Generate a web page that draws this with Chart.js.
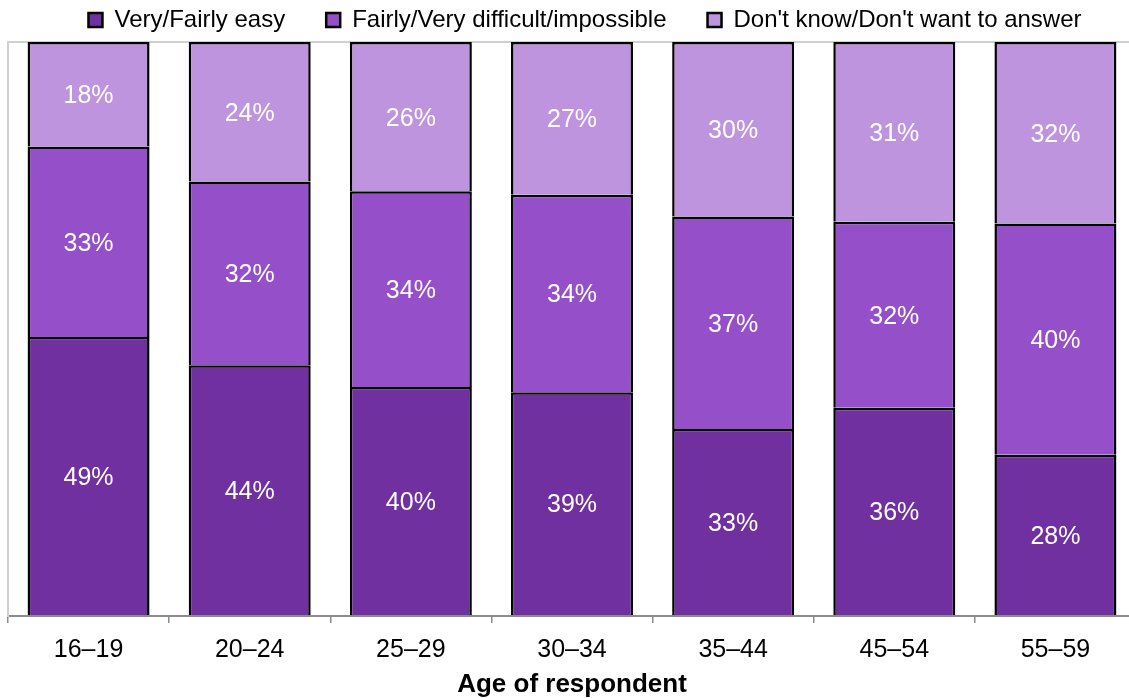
<!DOCTYPE html>
<html>
<head>
<meta charset="utf-8">
<script src="https://cdn.jsdelivr.net/npm/chart.js@4.4.1/dist/chart.umd.min.js"></script>
<style>
  html, body { margin: 0; padding: 0; background: #fff; overflow: hidden; }
  #wrap { width: 1140px; height: 698px; }
</style>
</head>
<body>
<div id="wrap"><canvas id="myChart" width="1140" height="698"></canvas></div>
<script>
const ageGroups = ['16–19', '20–24', '25–29', '30–34', '35–44', '45–54', '55–59'];
const seriesNames = ['Very/Fairly easy', 'Fairly/Very difficult/impossible', "Don't know/Don't want to answer"];

// shares in % (labels show the rounded value)
const easyValues = [48.6, 43.7, 39.9, 39.0, 32.6, 36.3, 28.1];
const difficultValues = [33.2, 32.0, 34.1, 34.4, 37.0, 32.4, 40.3];
const dontKnowValues = [18.2, 24.3, 26.0, 26.6, 30.4, 31.3, 31.6];

const seriesColors = ['#7030a0', '#954fc9', '#bf94de'];

Chart.defaults.font.family = "'Liberation Sans', Arial, sans-serif";
Chart.defaults.color = '#000';

// white percentage labels in the middle of each segment
const segmentLabels = {
  id: 'segmentLabels',
  afterDatasetsDraw(chart) {
    const { ctx } = chart;
    ctx.save();
    ctx.fillStyle = '#fff';
    ctx.font = "25px 'Liberation Sans', Arial, sans-serif";
    ctx.textAlign = 'center';
    ctx.textBaseline = 'middle';
    chart.data.datasets.forEach((ds, i) => {
      chart.getDatasetMeta(i).data.forEach((bar, j) => {
        const midY = (bar.y + bar.base) / 2;
        ctx.fillText(Math.round(ds.data[j]) + '%', bar.x, midY + 2);
      });
    });
    ctx.restore();
  }
};

// the legend sits a little right of the plot centre in the original
const legendShift = {
  id: 'legendShift',
  afterLayout(chart) {
    if (!chart.legend) return;
    chart.legend.left += 13;
    chart.legend.right += 13;
  }
};

const makeSet = (label, data, color) => ({
  label,
  data,
  backgroundColor: color,
  borderColor: '#000',
  borderWidth: 2.5,
  borderSkipped: 'start',
  categoryPercentage: 1,
  barPercentage: 0.757
});

new Chart(document.getElementById('myChart'), {
  type: 'bar',
  data: {
    labels: ageGroups,
    datasets: [
      makeSet(seriesNames[0], easyValues, seriesColors[0]),
      makeSet(seriesNames[1], difficultValues, seriesColors[1]),
      makeSet(seriesNames[2], dontKnowValues, seriesColors[2])
    ]
  },
  options: {
    responsive: false,
    animation: false,
    layout: { padding: { left: 8, right: 4, top: -33, bottom: 0 } },
    plugins: {
      legend: {
        position: 'top',
        labels: {
          boxWidth: 14,
          boxHeight: 14,
          padding: 41,
          font: { size: 24 },
          color: '#000'
        }
      },
      tooltip: { enabled: false }
    },
    scales: {
      x: {
        stacked: true,
        grid: {
          offset: true,
          drawOnChartArea: false,
          tickLength: 7,
          color: '#8c8c8c',
          lineWidth: 1.5
        },
        border: { color: '#8c8c8c', width: 2 },
        ticks: { font: { size: 25 }, padding: 12, maxRotation: 0 },
        title: {
          display: true,
          text: 'Age of respondent',
          font: { size: 26, weight: 'bold' },
          padding: { top: 0, bottom: -2 }
        },
        afterFit(scale) { scale.height = 82; }
      },
      y: {
        stacked: true,
        min: 0,
        max: 100,
        ticks: { display: false, stepSize: 100 },
        grid: {
          drawTicks: false,
          lineWidth: 2,
          color: c => (c.tick && c.tick.value === 100 ? '#d0d0d0' : 'transparent')
        },
        border: { color: '#d0d0d0', width: 2 },
        afterFit(scale) { scale.width = 0; }
      }
    }
  },
  plugins: [segmentLabels, legendShift]
});
</script>
</body>
</html>
